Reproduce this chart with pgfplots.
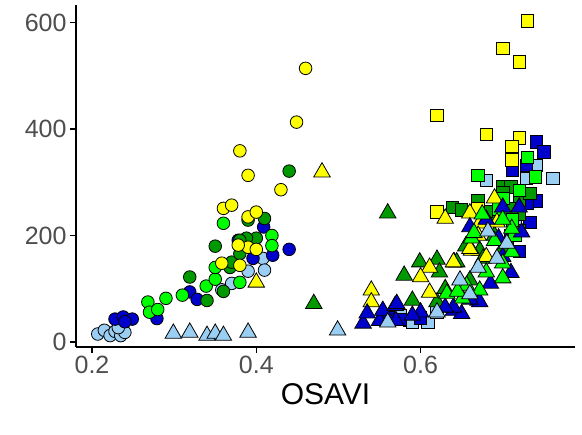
\documentclass[border=0pt]{standalone}
\usepackage{fontspec}
\setmainfont{Liberation Sans}
\usepackage{pgfplots}
\pgfplotsset{compat=1.18}

\definecolor{cYel}{HTML}{FFFF00}
\definecolor{cLim}{HTML}{00FF00}
\definecolor{cGrn}{HTML}{009900}
\definecolor{cBlu}{HTML}{0000CD}
\definecolor{cSky}{HTML}{9ACEF2}
\definecolor{tickgray}{HTML}{4D4D4D}

\pgfplotsset{
  circ/.style={only marks, mark=*, mark size=6.3pt,
    mark options={draw=black, line width=0.8pt, fill=#1}},
  tri/.style={only marks, mark=triangle*, mark size=9.5pt,
    mark options={draw=black, line width=0.8pt, fill=#1}},
  sqr/.style={only marks, mark=square*, mark size=6.2pt,
    mark options={draw=black, line width=0.8pt, fill=#1}},
}

\begin{document}
\begin{tikzpicture}
\useasboundingbox (-76pt,-88pt) rectangle (506pt,347pt);
\begin{axis}[
    at={(0,0)}, anchor=south west,
    scale only axis, width=499pt, height=342pt,
    xmin=0.1805, xmax=0.788, ymin=-9.4, ymax=633,
    axis x line=bottom, axis y line=left,
    axis line style={-, line width=1.5pt},
    xtick={0.2,0.4,0.6}, ytick={0,200,400,600},
    tick align=outside, major tick length=6pt,
    tick style={black, line width=1.2pt},
    ticklabel style={font=\fontsize{25}{25}\selectfont, text=tickgray},
    /pgf/number format/assume math mode=true,
    xlabel={OSAVI},
    xlabel style={font=\fontsize{30}{30}\selectfont, yshift=-2pt},
    clip=false,
]

% circles
\addplot[circ=cSky] coordinates {
  (0.207,15) (0.215,22) (0.222,12) (0.228,20) (0.235,12) (0.24,18) (0.232,27)
  (0.358,98) (0.37,110) (0.39,133) (0.408,157) (0.41,135)};
\addplot[circ=cBlu] coordinates {
  (0.228,43) (0.238,47) (0.249,43) (0.24,38) (0.279,44) (0.319,94) (0.328,80)
  (0.378,191) (0.396,157) (0.409,216) (0.42,163) (0.44,174)};
\addplot[circ=cGrn] coordinates {
  (0.35,180) (0.319,122) (0.34,78) (0.36,95) (0.368,140) (0.37,150) (0.38,166)
  (0.39,229) (0.40,195) (0.41,232) (0.44,321) (0.388,195) (0.38,191)};
\addplot[circ=cLim] coordinates {
  (0.268,75) (0.27,56) (0.29,82) (0.28,61) (0.31,88) (0.339,105) (0.35,118)
  (0.35,140) (0.36,223) (0.38,112) (0.419,200) (0.419,181)};
\addplot[circ=cYel] coordinates {
  (0.46,514) (0.449,413) (0.38,359) (0.39,313) (0.43,286) (0.36,251) (0.37,257)
  (0.39,235) (0.40,244) (0.39,178) (0.40,174) (0.38,144) (0.358,148) (0.378,182)};

% squares
\addplot[sqr=cSky] coordinates {
  (0.761,307) (0.741,332) (0.68,304) (0.729,307) (0.587,40) (0.609,37)
  (0.575,50) (0.62,56) (0.59,37) (0.715,230)};
\addplot[sqr=cBlu] coordinates {
  (0.741,376) (0.75,357) (0.741,265) (0.729,332) (0.712,323) (0.733,225)
  (0.70,240) (0.56,45) (0.575,42) (0.60,45) (0.71,200) (0.72,170)
  (0.715,245) (0.73,260) (0.69,230)};
\addplot[sqr=cGrn] coordinates {
  (0.70,291) (0.71,291) (0.639,253) (0.65,248) (0.72,266) (0.733,279)
  (0.67,266) (0.72,240) (0.70,280) (0.70,260) (0.71,250) (0.72,210)
  (0.705,180) (0.69,240) (0.68,245)};
\addplot[sqr=cLim] coordinates {
  (0.67,313) (0.74,310) (0.73,347) (0.72,285) (0.712,229) (0.70,270)
  (0.715,200) (0.695,250)};
\addplot[sqr=cYel] coordinates {
  (0.73,603) (0.70,552) (0.72,526) (0.62,426) (0.68,390) (0.72,383)
  (0.711,367) (0.711,342) (0.62,244) (0.67,251)};

% triangles
\addplot[tri=cGrn] coordinates {
  (0.47,72) (0.56,242) (0.58,125) (0.599,150) (0.62,155) (0.623,131)
  (0.641,150) (0.59,78) (0.66,116) (0.672,172) (0.676,157) (0.644,150)
  (0.655,180) (0.69,200) (0.70,175) (0.63,100) (0.62,75)};
\addplot[tri=cYel] coordinates {
  (0.48,319) (0.40,112) (0.54,97) (0.54,75) (0.611,140) (0.60,122) (0.611,93)
  (0.63,232) (0.66,242) (0.662,172) (0.69,270) (0.693,225) (0.672,223) (0.66,175)
  (0.67,200) (0.68,160) (0.64,150)};
\addplot[tri=cBlu] coordinates {
  (0.53,35) (0.535,54) (0.55,40) (0.554,59) (0.569,68) (0.571,72) (0.60,56)
  (0.64,59) (0.65,53) (0.64,65) (0.67,78) (0.672,75) (0.70,253) (0.72,253)
  (0.723,206) (0.66,216) (0.68,230) (0.695,195) (0.70,160) (0.66,80)
  (0.685,110) (0.71,130) (0.63,65) (0.59,50) (0.57,40)};
\addplot[tri=cLim] coordinates {
  (0.632,91) (0.651,82) (0.662,195) (0.672,97) (0.68,131) (0.711,213)
  (0.711,169) (0.70,148) (0.656,106) (0.665,205) (0.69,190) (0.70,120)
  (0.645,95) (0.70,230) (0.675,240)};
\addplot[tri=cSky] coordinates {
  (0.299,16) (0.319,18) (0.34,12) (0.35,16) (0.36,12) (0.39,18) (0.499,22)
  (0.56,37) (0.62,56) (0.648,116) (0.682,208) (0.693,157) (0.66,90)
  (0.705,185) (0.67,140)};

\end{axis}
\end{tikzpicture}
\end{document}
